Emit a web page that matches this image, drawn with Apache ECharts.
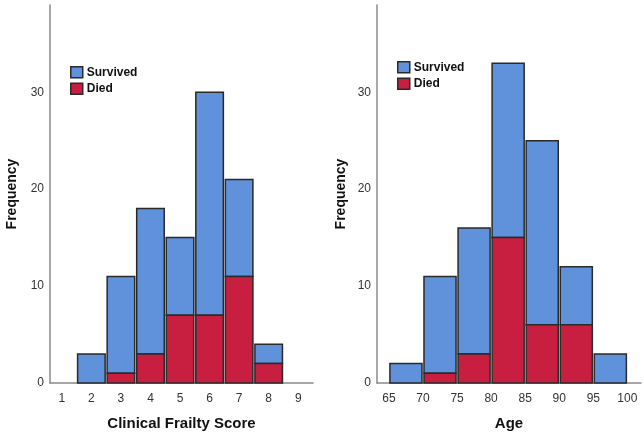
<!DOCTYPE html>
<html><head><meta charset="utf-8">
<script src="https://cdn.jsdelivr.net/npm/echarts@6/dist/echarts.min.js"></script>
<style>html,body{margin:0;padding:0;background:#fff}#c{width:644px;height:436px}</style>
</head><body><div id="c"></div>
<script>
// Left panel: Clinical Frailty Score (bins centred on score)
const cfsScores = [2, 3, 4, 5, 6, 7, 8];
const cfsSurvived = [3, 10, 15, 8, 23, 10, 2];
const cfsDied = [0, 1, 3, 7, 7, 11, 2];
const cfsTicks = [1, 2, 3, 4, 5, 6, 7, 8, 9];

// Right panel: Age (bin edges)
const ageStarts = [65, 70, 75, 80, 85, 90, 95];
const ageEnds = [70, 75, 80, 85, 90, 95, 100];
const ageSurvived = [2, 10, 13, 18, 19, 6, 3];
const ageDied = [0, 1, 3, 15, 6, 6, 0];
const ageTicks = [65, 70, 75, 80, 85, 90, 95, 100];

const yTicks = [0, 10, 20, 30];

const BLUE = '#5f92db', RED = '#c81f41', EDGE = '#2a2a2a';
const FONT = 'Liberation Sans, Arial, sans-serif';

function build(starts, ends, surv, died) {
  const s = [], d = [];
  for (let i = 0; i < starts.length; i++) {
    if (died[i] > 0) d.push([starts[i], ends[i], 0, died[i]]);
    if (surv[i] > 0) s.push([starts[i], ends[i], died[i], died[i] + surv[i]]);
  }
  return {s, d};
}
const L = build(cfsScores.map(v => v - 0.5), cfsScores.map(v => v + 0.5), cfsSurvived, cfsDied);
const R = build(ageStarts, ageEnds, ageSurvived, ageDied);

function renderItem(params, api) {
  const p1 = api.coord([api.value(0), api.value(3)]);
  const p2 = api.coord([api.value(1), api.value(2)]);
  return {
    type: 'rect',
    shape: {x: p1[0] + 1, y: p1[1], width: p2[0] - p1[0] - 2, height: p2[1] - p1[1]},
    style: {fill: api.visual('color'), stroke: EDGE, lineWidth: 1.5}
  };
}
function series(name, data, color, idx) {
  return {type: 'custom', name, data, xAxisIndex: idx, yAxisIndex: idx,
    renderItem, itemStyle: {color, borderColor: EDGE, borderWidth: 1.5},
    encode: {x: [0, 1], y: [2, 3]}};
}
function xAxis(idx, min, max, ticks, title) {
  return {type: 'value', gridIndex: idx, min, max,
    axisLine: {show: true, lineStyle: {color: '#8a8a8a', width: 1.5}},
    axisTick: {show: false}, splitLine: {show: false},
    axisLabel: {customValues: ticks, color: '#333', fontSize: 12, fontFamily: FONT, margin: 10},
    name: title, nameLocation: 'middle', nameGap: 33,
    nameTextStyle: {fontSize: 15, fontWeight: 'bold', color: '#111', fontFamily: FONT}};
}
function yAxis(idx, gap) {
  return {type: 'value', gridIndex: idx, min: 0, max: 39,
    axisLine: {show: true, lineStyle: {color: '#8a8a8a', width: 1.5}},
    axisTick: {show: false}, splitLine: {show: false},
    axisLabel: {customValues: yTicks, color: '#333', fontSize: 12, fontFamily: FONT, margin: 6},
    name: 'Frequency', nameLocation: 'middle', nameGap: gap, nameRotate: 90,
    nameTextStyle: {fontSize: 14, fontWeight: 'bold', color: '#111', fontFamily: FONT}};
}
function legend(idx, left, top) {
  return {orient: 'vertical', left, top, padding: 0, itemGap: 4, itemWidth: 12, itemHeight: 11,
    icon: 'rect', selectedMode: false,
    data: [
      {name: 'Survived' + (idx ? ' ' : ''), itemStyle: {color: BLUE, borderColor: EDGE, borderWidth: 1.5}},
      {name: 'Died' + (idx ? ' ' : ''), itemStyle: {color: RED, borderColor: EDGE, borderWidth: 1.5}}
    ],
    textStyle: {fontSize: 12, fontWeight: 'bold', color: '#111', fontFamily: FONT, padding: [0, 0, 0, -1]}};
}

const chart = echarts.init(document.getElementById('c'), null, {renderer: 'canvas'});
chart.setOption({
  animation: false,
  backgroundColor: '#fff',
  grid: [
    {left: 50, top: 5, width: 263, bottom: 50},
    {left: 377, top: 5, width: 264, bottom: 50}
  ],
  xAxis: [xAxis(0, 0.6, 9.5, cfsTicks, 'Clinical Frailty Score'), xAxis(1, 63.25, 102, ageTicks, 'Age')],
  yAxis: [yAxis(0, 31), yAxis(1, 29)],
  legend: [legend(0, 70, 66), legend(1, 397, 61)],
  series: [
    series('Survived', L.s, BLUE, 0), series('Died', L.d, RED, 0),
    series('Survived ', R.s, BLUE, 1), series('Died ', R.d, RED, 1)
  ]
});
</script></body></html>
